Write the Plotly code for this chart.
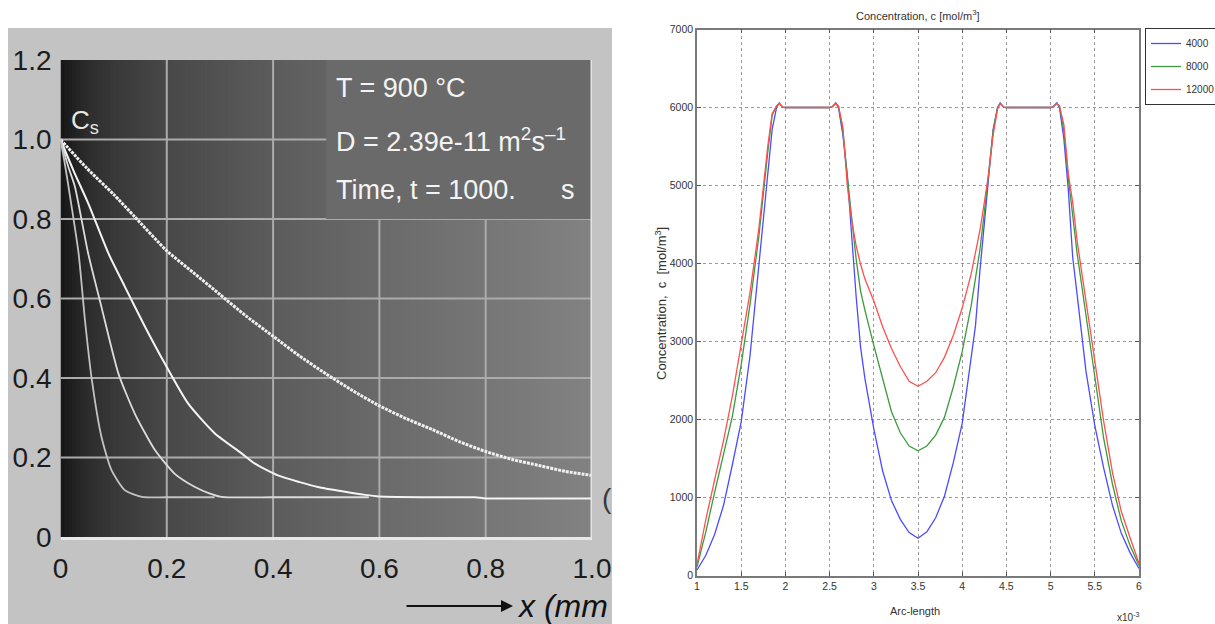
import plotly.graph_objects as go

# ---------------- data: left panel (diffusion profiles, C vs x in mm) ----------------
C1_X = [0, 0.05, 0.1, 0.14, 0.2, 0.25, 0.3, 0.35, 0.4, 0.45, 0.5, 0.55, 0.6, 0.65, 0.7, 0.75, 0.8, 0.85, 0.9, 0.95, 1.0]
C1_Y = [1.0, 0.927, 0.862, 0.805, 0.72, 0.665, 0.61, 0.555, 0.505, 0.455, 0.41, 0.368, 0.33, 0.298, 0.27, 0.24, 0.215, 0.195, 0.18, 0.165, 0.155]

C2_X = [0, 0.025, 0.052, 0.09, 0.121, 0.159, 0.196, 0.24, 0.29, 0.34, 0.365, 0.409, 0.45, 0.484, 0.53, 0.573, 0.6, 0.7, 0.78, 0.8, 0.9, 1.0]
C2_Y = [1.0, 0.92, 0.84, 0.714, 0.63, 0.529, 0.437, 0.336, 0.261, 0.211, 0.185, 0.155, 0.138, 0.126, 0.115, 0.106, 0.102, 0.1, 0.1, 0.097, 0.097, 0.097]

C3_X = [0, 0.015, 0.027, 0.052, 0.077, 0.109, 0.14, 0.178, 0.215, 0.253, 0.28, 0.303, 0.4, 0.5, 0.58]
C3_Y = [1.0, 0.93, 0.882, 0.714, 0.579, 0.411, 0.31, 0.218, 0.159, 0.126, 0.11, 0.101, 0.1, 0.1, 0.1]

C4_X = [0, 0.008, 0.015, 0.034, 0.046, 0.059, 0.077, 0.096, 0.121, 0.153, 0.2, 0.29]
C4_Y = [1.0, 0.94, 0.882, 0.714, 0.546, 0.395, 0.252, 0.168, 0.118, 0.101, 0.1, 0.1]

LEFT_XTICKS = [0, 0.2, 0.4, 0.6, 0.8, 1.0]
LEFT_XTEXT = ["0", "0.2", "0.4", "0.6", "0.8", "1.0"]
LEFT_YTICKS = [0, 0.2, 0.4, 0.6, 0.8, 1.0, 1.2]
LEFT_YTEXT = ["0", "0.2", "0.4", "0.6", "0.8", "1.0", "1.2"]

# ---------------- data: right panel (concentration vs arc-length, x1e-3) ----------------
ARC = [1.0, 1.1, 1.2, 1.3, 1.4, 1.5, 1.6, 1.7, 1.75, 1.8, 1.85, 1.9, 1.93, 1.97, 2.0, 2.25, 2.5, 2.53, 2.57,
       2.6, 2.65, 2.7, 2.75, 2.8, 2.85, 2.9, 3.0, 3.1, 3.2, 3.3, 3.4, 3.5, 3.6, 3.7, 3.8, 3.9, 4.0, 4.1, 4.15,
       4.2, 4.25, 4.3, 4.35, 4.4, 4.43, 4.47, 4.5, 4.75, 5.0, 5.03, 5.07, 5.1, 5.15, 5.2, 5.25, 5.3, 5.4, 5.5,
       5.6, 5.7, 5.8, 5.9, 6.0]
C_4000 = [70, 260, 530, 900, 1420, 1970, 2820, 3990, 4620, 5230, 5720, 6000, 6060, 6005, 6000, 6000, 6000, 6010, 6060,
          6000, 5650, 5130, 4320, 3580, 2930, 2520, 1880, 1340, 960, 720, 550, 477, 560, 740, 1020, 1450, 1950, 2750, 3200,
          3900, 4480, 5150, 5720, 6000, 6060, 6005, 6000, 6000, 6000, 6010, 6060, 6000, 5600, 4950, 4080, 3600, 2620, 1920,
          1380, 900, 540, 290, 90]
C_8000 = [110, 560, 1070, 1560, 2040, 2700, 3480, 4350, 4920, 5420, 5900, 6020, 6050, 6005, 6000, 6000, 6000, 6010, 6050,
          6020, 5700, 5120, 4600, 4060, 3650, 3400, 2950, 2520, 2100, 1830, 1660, 1600, 1660, 1800, 2030, 2420, 2870, 3450, 3800,
          4170, 4650, 5170, 5700, 6000, 6050, 6005, 6000, 6000, 6000, 6010, 6050, 6020, 5700, 5100, 4580, 4130, 3340, 2520,
          1760, 1170, 700, 380, 130]
C_12000 = [140, 720, 1230, 1730, 2300, 2970, 3630, 4450, 5000, 5500, 5920, 6020, 6050, 6005, 6000, 6000, 6000, 6010, 6050,
           6020, 5750, 5000, 4550, 4230, 3990, 3800, 3520, 3190, 2910, 2680, 2490, 2425, 2490, 2600, 2800, 3080, 3430, 3860, 4120,
           4420, 4780, 5160, 5650, 5980, 6050, 6005, 6000, 6000, 6000, 6010, 6050, 6020, 5780, 5150, 4780, 4290, 3500, 2730,
           1980, 1320, 820, 480, 156]
SERIES_NAMES = ["4000", "8000", "12000"]
RIGHT_XTICKS = [1, 1.5, 2, 2.5, 3, 3.5, 4, 4.5, 5, 5.5, 6]
RIGHT_XTEXT = ["1", "1.5", "2", "2.5", "3", "3.5", "4", "4.5", "5", "5.5", "6"]
RIGHT_YTICKS = [0, 1000, 2000, 3000, 4000, 5000, 6000, 7000]

# ---------------- geometry helpers (pixels -> paper) ----------------
W, H = 1215, 624
def px(v):
    return v / W
def py(v):
    return 1 - v / H

NARROW = "Liberation Sans, Arial, sans-serif"
SANS = "Liberation Sans, Arial, sans-serif"

fig = go.Figure()

left_styles = [
    (C1_X, C1_Y, "#f0f0f0", 3.0, "3px,1px"),
    (C2_X, C2_Y, "#f4f4f4", 2.0, "solid"),
    (C3_X, C3_Y, "#dcdcdc", 1.8, "solid"),
    (C4_X, C4_Y, "#c2c2c2", 1.8, "solid"),
]
for xs, ys, col, w, dash in left_styles:
    fig.add_trace(go.Scatter(x=xs, y=ys, xaxis="x", yaxis="y", mode="lines",
                             line=dict(color=col, width=w, dash=dash, shape="spline", smoothing=0.6),
                             showlegend=False, hoverinfo="skip"))

right_colors = ["#4b4bff", "#3c9a3c", "#ff5050"]
for i, (ys, name) in enumerate(zip([C_4000, C_8000, C_12000], SERIES_NAMES)):
    fig.add_trace(go.Scatter(x=ARC, y=ys, xaxis="x2", yaxis="y2", mode="lines", name=name,
                             legendgroup=name,
                             line=dict(color=right_colors[i], width=1.3)))

# ---------------- shapes (left panel background, gradient, grid, box) ----------------
shapes = []
shapes.append(dict(type="rect", xref="paper", yref="paper", x0=px(8), x1=px(612), y0=0, y1=py(28),
                   fillcolor="#c3c3c3", line=dict(width=0), layer="below"))
stops = [(0, 22), (0.05, 44), (0.1, 56), (0.2, 72), (0.4, 92), (0.6, 106), (0.8, 118), (1.0, 130)]
def gray_at(t):
    for (t0, g0), (t1, g1) in zip(stops[:-1], stops[1:]):
        if t0 <= t <= t1:
            g = g0 + (g1 - g0) * (t - t0) / (t1 - t0)
            return int(round(g))
    return stops[-1][1]
N = 140
for i in range(N):
    t = (i + 0.5) / N
    g = gray_at(t)
    shapes.append(dict(type="rect", xref="x", yref="y", x0=i / N, x1=min(1.0, (i + 1) / N + 0.003), y0=0, y1=1.2,
                       fillcolor=f"rgb({g},{g},{g})", line=dict(width=0), layer="below"))
for gx in LEFT_XTICKS[1:-1]:
    shapes.append(dict(type="line", xref="x", yref="y", x0=gx, x1=gx, y0=0, y1=1.2,
                       line=dict(color="#ababab", width=2), layer="below"))
for gy in LEFT_YTICKS[1:-1]:
    shapes.append(dict(type="line", xref="x", yref="y", x0=0, x1=1.0, y0=gy, y1=gy,
                       line=dict(color="#ababab", width=2), layer="below"))
shapes.append(dict(type="rect", xref="x", yref="y", x0=0.5, x1=1.0, y0=0.8, y1=1.2,
                   fillcolor="#6a6a6a", line=dict(width=0), layer="below"))
shapes.append(dict(type="line", xref="x", yref="y", x0=1.0, x1=1.0, y0=0, y1=1.2,
                   line=dict(color="#e4e4e4", width=3), layer="above"))

# ---------------- annotations ----------------
ann = []
tb = dict(family=NARROW, size=27, color="#f4f4f4")
ann.append(dict(text="T = 900 °C", x=px(334), y=py(88), xref="paper", yref="paper",
                xanchor="left", yanchor="middle", showarrow=False, font=tb))
ann.append(dict(text="D = 2.39e-11 m<sup>2</sup>s<sup>–1</sup>", x=px(334), y=py(140), xref="paper", yref="paper",
                xanchor="left", yanchor="middle", showarrow=False, font=tb))
ann.append(dict(text="Time, t = 1000.", x=px(334), y=py(190), xref="paper", yref="paper",
                xanchor="left", yanchor="middle", showarrow=False, font=tb))
ann.append(dict(text="s", x=px(559), y=py(190), xref="paper", yref="paper",
                xanchor="left", yanchor="middle", showarrow=False, font=tb))
ann.append(dict(text="C<sub>s</sub>", x=px(69), y=py(122), xref="paper", yref="paper",
                xanchor="left", yanchor="middle", showarrow=False,
                font=dict(family=NARROW, size=26, color="#e6e6e6")))
ann.append(dict(text="(", x=px(600), y=py(498), xref="paper", yref="paper",
                xanchor="left", yanchor="middle", showarrow=False,
                font=dict(family=NARROW, size=28, color="#3a3a3a")))
ann.append(dict(text="", x=px(513), y=py(606), ax=-108, ay=0, xref="paper", yref="paper",
                showarrow=True, arrowhead=2, arrowsize=1.2, arrowwidth=2, arrowcolor="#111111"))
ann.append(dict(text="<i>x (mm</i>", x=px(515), y=py(606), xref="paper", yref="paper",
                xanchor="left", yanchor="middle", showarrow=False,
                font=dict(family=NARROW, size=32, color="#111111")))

ann.append(dict(text="Concentration, c [mol/m<sup>3</sup>]", x=px(918), y=py(15), xref="paper", yref="paper",
                xanchor="center", yanchor="middle", showarrow=False, font=dict(family=SANS, size=11, color="#333333")))
ann.append(dict(text="Concentration,  c  [mol/m<sup>3</sup>]", x=px(661), y=py(304), xref="paper", yref="paper",
                xanchor="center", yanchor="middle", textangle=-90, showarrow=False,
                font=dict(family=SANS, size=13, color="#333333")))
ann.append(dict(text="Arc-length", x=px(915), y=py(611), xref="paper", yref="paper",
                xanchor="center", yanchor="middle", showarrow=False, font=dict(family=SANS, size=11, color="#333333")))
ann.append(dict(text="x10<sup>-3</sup>", x=px(1128), y=py(617), xref="paper", yref="paper",
                xanchor="center", yanchor="middle", showarrow=False, font=dict(family=SANS, size=10, color="#333333")))

fig.update_layout(
    width=W, height=H,
    margin=dict(l=0, r=0, t=0, b=0, autoexpand=False),
    paper_bgcolor="white", plot_bgcolor="white",
    shapes=shapes, annotations=ann,
    xaxis=dict(domain=[px(60.5), px(592)], range=[0, 1.0], anchor="y",
               tickmode="array", tickvals=LEFT_XTICKS, ticktext=LEFT_XTEXT,
               showgrid=False, zeroline=False, showline=True, linecolor="#e8e8e8", linewidth=3,
               ticks="", ticklabelstandoff=4,
               tickfont=dict(family=NARROW, size=28, color="#1c1c1c")),
    yaxis=dict(domain=[py(537), py(60)], range=[0, 1.2], anchor="x",
               tickmode="array", tickvals=LEFT_YTICKS, ticktext=LEFT_YTEXT,
               showgrid=False, zeroline=False, showline=False,
               ticks="", ticklabelstandoff=8,
               tickfont=dict(family=NARROW, size=28, color="#1c1c1c")),
    xaxis2=dict(domain=[px(697), px(1139)], range=[1, 6], anchor="y2",
                tickmode="array", tickvals=RIGHT_XTICKS, ticktext=RIGHT_XTEXT,
                showgrid=True, gridcolor="#9a9a9a", griddash="dot", gridwidth=1,
                zeroline=False, showline=True, mirror="ticks", linecolor="#7a7a7a", linewidth=1.5,
                ticks="inside", ticklen=4, tickcolor="#555555",
                tickfont=dict(family=SANS, size=10.5, color="#333333")),
    yaxis2=dict(domain=[py(575.5), py(29.5)], range=[0, 7000], anchor="x2",
                tickmode="array", tickvals=RIGHT_YTICKS,
                showgrid=True, gridcolor="#9a9a9a", griddash="dot", gridwidth=1,
                zeroline=False, showline=True, mirror="ticks", linecolor="#7a7a7a", linewidth=1.5,
                ticks="inside", ticklen=4, tickcolor="#555555",
                tickfont=dict(family=SANS, size=10.5, color="#333333")),
    legend=dict(x=px(1145), y=py(28), xanchor="left", yanchor="top",
                bordercolor="#333333", borderwidth=1, bgcolor="white",
                font=dict(family=SANS, size=10, color="#333333"), tracegroupgap=4),
    showlegend=True,
)

fig.write_html("out.html")
